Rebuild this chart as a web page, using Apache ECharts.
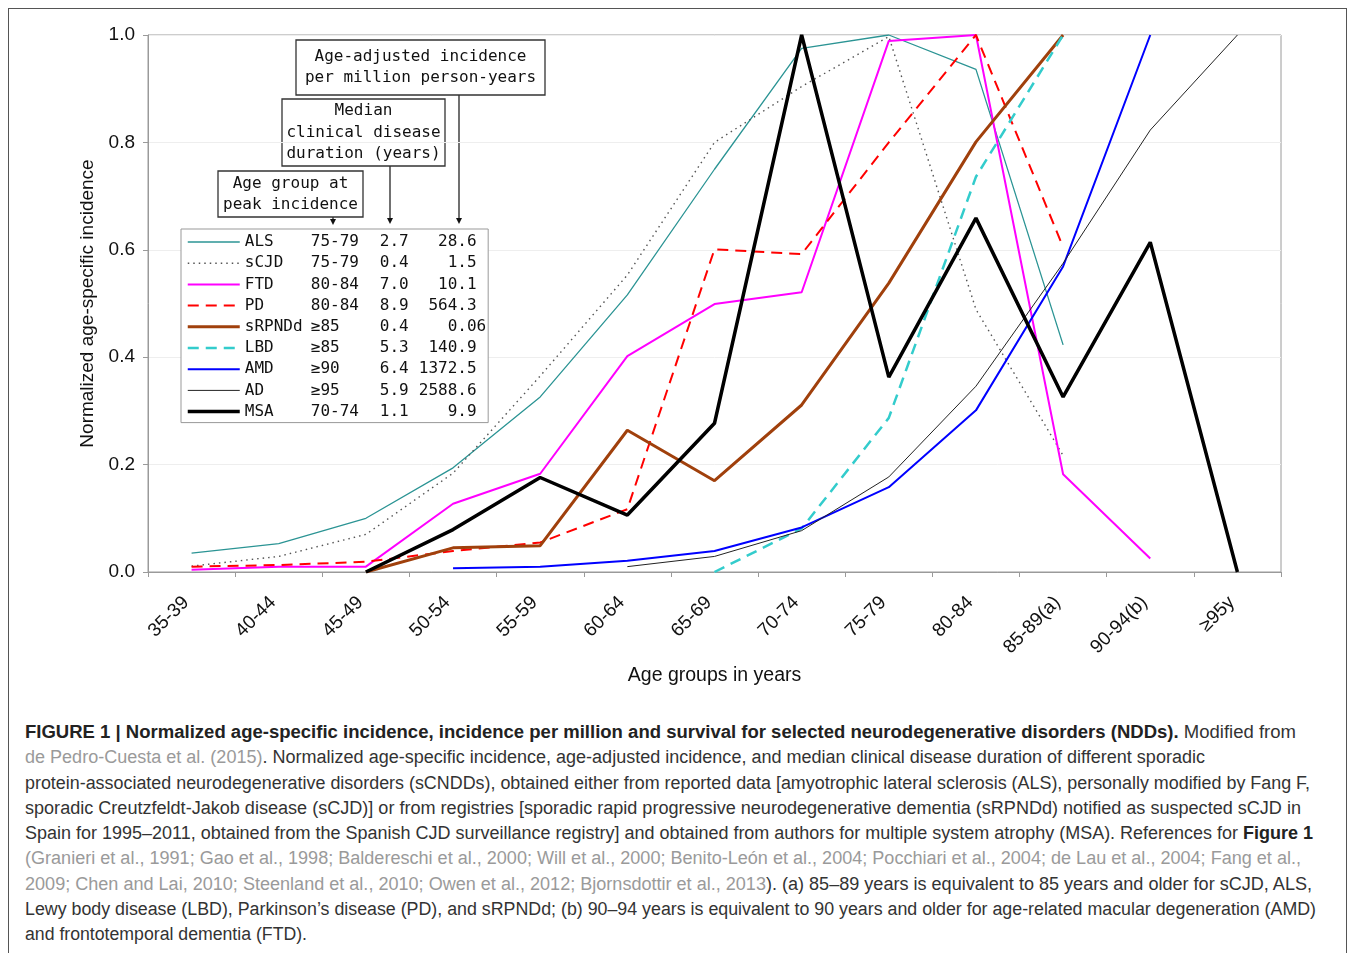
<!DOCTYPE html>
<html>
<head>
<meta charset="utf-8">
<script src="https://cdn.jsdelivr.net/npm/echarts@6/dist/echarts.min.js"></script>
<style>
  html, body { margin: 0; padding: 0; background: #fff; width: 1354px; height: 953px; overflow: hidden; }
  #frame { position: absolute; left: 8px; top: 8px; width: 1337px; height: 1000px; border: 1.5px solid #555; border-bottom: none; }
  #chart { position: absolute; left: 0; top: 0; width: 1354px; height: 700px; }
  #caption { position: absolute; left: 25px; top: 720px; font-family: "Liberation Sans", Arial, sans-serif; font-size: 18px; color: #333; }
  #caption .ln { white-space: nowrap; height: 25.25px; line-height: 25.25px; transform-origin: 0 50%; }
  #caption .g { color: #9a9a9a; }
  #caption b { font-weight: bold; color: #222; }
</style>
</head>
<body>
<div id="frame"></div>
<div id="chart"></div>
<div id="caption">
  <div class="ln" data-w="1271"><b>FIGURE 1 | Normalized age-specific incidence, incidence per million and survival for selected neurodegenerative disorders (NDDs).</b> Modified from</div>
  <div class="ln" data-w="1180"><span class="g">de Pedro-Cuesta et al. (2015)</span>. Normalized age-specific incidence, age-adjusted incidence, and median clinical disease duration of different sporadic</div>
  <div class="ln" data-w="1285">protein-associated neurodegenerative disorders (sCNDDs), obtained either from reported data [amyotrophic lateral sclerosis (ALS), personally modified by Fang F,</div>
  <div class="ln" data-w="1276">sporadic Creutzfeldt-Jakob disease (sCJD)] or from registries [sporadic rapid progressive neurodegenerative dementia (sRPNDd) notified as suspected sCJD in</div>
  <div class="ln" data-w="1288">Spain for 1995–2011, obtained from the Spanish CJD surveillance registry] and obtained from authors for multiple system atrophy (MSA). References for <b>Figure 1</b></div>
  <div class="ln" data-w="1276"><span class="g">(Granieri et al., 1991; Gao et al., 1998; Baldereschi et al., 2000; Will et al., 2000; Benito-León et al., 2004; Pocchiari et al., 2004; de Lau et al., 2004; Fang et al.,</span></div>
  <div class="ln" data-w="1287"><span class="g">2009; Chen and Lai, 2010; Steenland et al., 2010; Owen et al., 2012; Bjornsdottir et al., 2013</span>). (a) 85–89 years is equivalent to 85 years and older for sCJD, ALS,</div>
  <div class="ln" data-w="1291">Lewy body disease (LBD), Parkinson’s disease (PD), and sRPNDd; (b) 90–94 years is equivalent to 90 years and older for age-related macular degeneration (AMD)</div>
  <div class="ln" data-w="282">and frontotemporal dementia (FTD).</div>
</div>
<script>
// ---------- DATA ----------
const categories = ['35-39','40-44','45-49','50-54','55-59','60-64','65-69','70-74','75-79','80-84','85-89(a)','90-94(b)','≥95y'];
const yTicks = [0, 0.2, 0.4, 0.6, 0.8, 1.0];

const ALS    = [0.035, 0.053, 0.100, 0.194, 0.326, 0.516, 0.750, 0.975, 1.000, 0.936, 0.423, null, null];
const sCJD   = [0.011, 0.029, 0.070, 0.184, 0.365, 0.553, 0.800, 0.904, 0.997, 0.489, 0.217, null, null];
const FTD    = [0.004, 0.010, 0.010, 0.127, 0.183, 0.402, 0.499, 0.521, 0.989, 1.000, 0.182, 0.025, null];
const PD     = [0.010, 0.013, 0.019, 0.039, 0.055, 0.117, 0.601, 0.592, 0.800, 1.000, 0.605, null, null];
const sRPNDd = [null, null, 0.000, 0.045, 0.049, 0.264, 0.170, 0.311, 0.538, 0.801, 1.000, null, null];
const LBD    = [null, null, null, null, null, null, 0.000, 0.081, 0.287, 0.736, 1.000, null, null];
const AMD    = [null, null, null, 0.007, 0.010, 0.021, 0.039, 0.083, 0.158, 0.301, 0.569, 1.000, null];
const AD     = [null, null, null, null, null, 0.010, 0.029, 0.077, 0.177, 0.346, 0.575, 0.823, 1.000];
const MSA    = [null, null, 0.000, 0.079, 0.176, 0.106, 0.277, 1.000, 0.363, 0.659, 0.326, 0.614, 0.000];

const seriesNames = ['ALS','sCJD','FTD','PD','sRPNDd','LBD','AMD','AD','MSA'];
const peakAge     = ['75-79','75-79','80-84','80-84','≥85','≥85','≥90','≥95','70-74'];
const duration    = ['2.7','0.4','7.0','8.9','0.4','5.3','6.4','5.9','1.1'];
const incidence   = ['28.6','1.5','10.1','564.3','0.06','140.9','1372.5','2588.6','9.9'];

// ---------- STYLES ----------
const styles = {
  ALS:    { color: '#2b9494', width: 1.3, type: 'solid' },
  sCJD:   { color: '#555555', width: 1.4, type: [1.5, 4] },
  FTD:    { color: '#ff00ff', width: 2, type: 'solid' },
  PD:     { color: '#ff0000', width: 2, type: [11, 7] },
  sRPNDd: { color: '#a0400c', width: 3, type: 'solid' },
  LBD:    { color: '#33cccc', width: 2.5, type: [11, 7] },
  AMD:    { color: '#0000ff', width: 2, type: 'solid' },
  AD:     { color: '#222222', width: 1, type: 'solid' },
  MSA:    { color: '#000000', width: 3.5, type: 'solid' }
};
const dataMap = { ALS, sCJD, FTD, PD, sRPNDd, LBD, AMD, AD, MSA };

const mono = '"DejaVu Sans Mono", monospace';
const sans = '"Liberation Sans", Arial, sans-serif';

function padInc(s) {
  const p = s.split('.');
  return p[0].padStart(4, ' ') + '.' + p[1];
}

const chart = echarts.init(document.getElementById('chart'), null, { renderer: 'canvas' });

const series = seriesNames.map(n => ({
  name: n,
  type: 'line',
  data: dataMap[n],
  symbol: 'none',
  connectNulls: false,
  lineStyle: { color: styles[n].color, width: styles[n].width, type: styles[n].type },
  itemStyle: { color: styles[n].color },
  z: n === 'MSA' ? 5 : 3,
  animation: false
}));

function box(x, y, w, h, lines, lh) {
  const children = [{
    type: 'rect', shape: { x: x, y: y, width: w, height: h },
    style: { fill: '#fff', stroke: '#333', lineWidth: 1.3 }
  }];
  const total = lines.length * lh;
  lines.forEach((t, i) => {
    children.push({
      type: 'text',
      style: { text: t, x: x + w / 2, y: y + (h - total) / 2 + lh * i + lh / 2, align: 'center', verticalAlign: 'middle',
               font: '16px ' + mono, fill: '#111' }
    });
  });
  return children;
}
function arrow(x, y1, y2) {
  return [
    { type: 'line', shape: { x1: x, y1: y1, x2: x, y2: y2 - 5 }, style: { stroke: '#111', lineWidth: 1.2 } },
    { type: 'polygon', shape: { points: [[x - 3, y2 - 6], [x + 3, y2 - 6], [x, y2]] }, style: { fill: '#111' } }
  ];
}

const graphicChildren = []
  .concat(arrow(459, 95, 224))
  .concat(arrow(390, 166, 224))
  .concat(arrow(333, 217, 225))
  .concat(box(296, 40, 249, 55, ['Age-adjusted incidence', 'per million person-years'], 21))
  .concat(box(282, 99, 163, 67, ['Median', 'clinical disease', 'duration (years)'], 21.3))
  .concat(box(218, 171, 145, 46, ['Age group at', 'peak incidence'], 21));

const richBase = { fontFamily: mono, fontSize: 16, color: '#111', lineHeight: 14 };

chart.setOption({
  backgroundColor: 'transparent',
  animation: false,
  grid: { left: 148, top: 35, width: 1133, height: 537, show: true, borderColor: '#9a9a9a', borderWidth: 1, backgroundColor: 'transparent' },
  xAxis: {
    type: 'category',
    data: categories,
    boundaryGap: true,
    axisLine: { lineStyle: { color: '#9a9a9a', width: 1 } },
    axisTick: { show: true, length: 5, lineStyle: { color: '#9a9a9a' } },
    axisLabel: { rotate: 45, fontSize: 19, color: '#111', fontFamily: sans, margin: 22, padding: [0, 8, 0, 0], interval: 0 },
    name: 'Age groups in years',
    nameLocation: 'middle',
    nameGap: 94,
    nameTextStyle: { fontSize: 19.5, color: '#111', fontFamily: sans }
  },
  yAxis: {
    type: 'value',
    min: 0, max: 1, interval: 0.2,
    axisLine: { show: true, lineStyle: { color: '#9a9a9a', width: 1 } },
    axisTick: { show: true, length: 5, lineStyle: { color: '#9a9a9a' } },
    splitLine: { show: true, lineStyle: { color: '#eeeeee', width: 1 } },
    axisLabel: { fontSize: 19, color: '#111', fontFamily: sans, margin: 13, formatter: v => v.toFixed(1) },
    name: 'Normalized age-specific incidence',
    nameLocation: 'middle',
    nameRotate: 90,
    nameGap: 49,
    nameTextStyle: { fontSize: 19, color: '#111', fontFamily: sans }
  },
  legend: {
    orient: 'vertical',
    left: 181, top: 229,
    padding: [5, 2, 3, 5],
    itemWidth: 52, itemHeight: 14, itemGap: 5.2,
    backgroundColor: '#fff',
    borderColor: '#999', borderWidth: 1,
    selectedMode: false,
    data: seriesNames,
    itemStyle: { opacity: 0 },
    lineStyle: { width: 'inherit' },
    textStyle: {
      fontFamily: mono, fontSize: 16, color: '#111', lineHeight: 14,
      rich: {
        n: Object.assign({ width: 66 }, richBase),
        a: Object.assign({ width: 69 }, richBase),
        b: Object.assign({ width: 39 }, richBase),
        c: Object.assign({}, richBase)
      }
    },
    formatter: function (name) {
      const i = seriesNames.indexOf(name);
      return '{n|' + name + '}{a|' + peakAge[i] + '}{b|' + duration[i] + '}{c|' + padInc(incidence[i]) + '}';
    }
  },
  graphic: [{ type: 'group', children: graphicChildren, z: 100 }],
  series: series
});

// fit caption lines to reference widths
document.querySelectorAll('#caption .ln').forEach(el => {
  const target = parseFloat(el.getAttribute('data-w'));
  const span = document.createElement('span');
  span.innerHTML = el.innerHTML;
  el.innerHTML = '';
  el.appendChild(span);
  const w = span.getBoundingClientRect().width;
  el.style.transform = 'scaleX(' + (target / w) + ')';
});
</script>
</body>
</html>
